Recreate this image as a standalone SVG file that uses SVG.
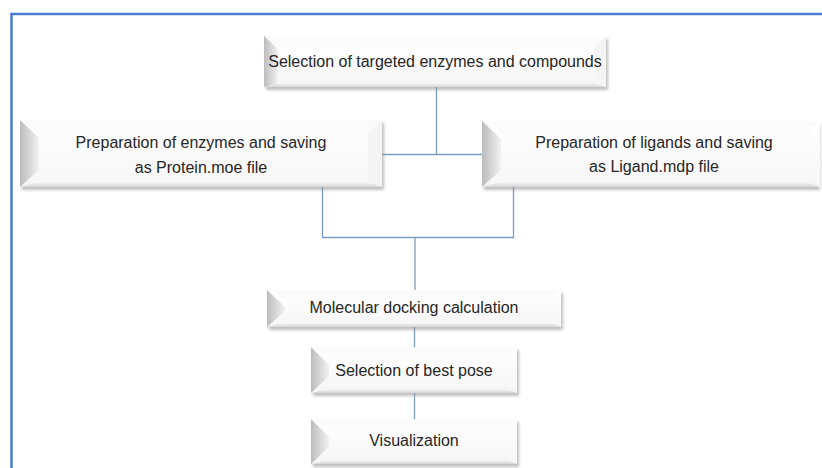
<svg xmlns="http://www.w3.org/2000/svg" width="822" height="468" viewBox="0 0 822 468">
  <defs>
    <linearGradient id="gLeft" x1="0" y1="0" x2="1" y2="0">
      <stop offset="0" stop-color="#bcbcbc"/>
      <stop offset="1" stop-color="#f2f2f2"/>
    </linearGradient>
    <linearGradient id="gBottom" x1="0" y1="0" x2="0" y2="1">
      <stop offset="0" stop-color="#f6f6f6"/>
      <stop offset="1" stop-color="#d6d6d6"/>
    </linearGradient>
    <linearGradient id="gFace" x1="0" y1="0" x2="0" y2="1">
      <stop offset="0" stop-color="#ffffff"/>
      <stop offset="1" stop-color="#f6f6f6"/>
    </linearGradient>
    <filter id="shadow" x="-5%" y="-20%" width="110%" height="150%">
      <feGaussianBlur stdDeviation="1.5"/>
    </filter>
    <style>
      .shadow { fill: #8c8c8c; opacity: 0.55; filter: url(#shadow); }
      .face { fill: url(#gFace); }
      .bl { fill: url(#gLeft); }
      .bb { fill: url(#gBottom); }
      .bt { fill: #fbfbfb; }
      .br { fill: #f4f4f4; }
      .lbl { font-family: "Liberation Sans", Arial, sans-serif; font-size: 16px; fill: #262626; text-anchor: middle; }
      .conn { fill: none; stroke: #7f9dbd; stroke-width: 1.3; }
      .frame { fill: none; stroke: #4a7bd0; stroke-width: 2.5; }
    </style>
  </defs>

  <rect x="0" y="0" width="822" height="468" fill="#ffffff"/>
  <path class="frame" d="M11.5 468 V14 H822"/>

  <g id="connectors">
    <path class="conn" d="M436.5 87 V154.5"/>
    <path class="conn" d="M382 154.5 H482"/>
    <path class="conn" d="M322.5 187 V237.5 H513.5 V187"/>
    <path class="conn" d="M415 237.5 V290"/>
    <path class="conn" d="M414.5 327 V347"/>
    <path class="conn" d="M414.5 393 V419"/>
  </g>

  <g id="node-selection-targets">
    <rect class="shadow" x="266" y="39" width="342" height="51"/>
    <rect class="face" x="264" y="36" width="342" height="51"/>
    <polygon class="bt" points="264,36 606,36 594,48 276,48"/>
    <polygon class="br" points="606,36 606,87 594,75 594,48"/>
    <polygon class="bb" points="264,87 276,83 594,83 606,87"/>
    <polygon class="bl" points="264,36 278,49 278,83 264,87"/>
    <rect class="face" x="278" y="48" width="316" height="35" opacity="0.6"/>
    <text class="lbl" x="435" y="67">Selection of targeted enzymes and compounds</text>
  </g>

  <g id="node-prep-enzymes">
    <rect class="shadow" x="22" y="123" width="362" height="67"/>
    <rect class="face" x="20" y="120" width="362" height="67"/>
    <polygon class="bt" points="20,120 382,120 368,134 38,134"/>
    <polygon class="br" points="382,120 382,187 368,182 368,134"/>
    <polygon class="bb" points="20,187 38,182 368,182 382,187"/>
    <polygon class="bl" points="20,120 39,138 39,170 20,187"/>
    <text class="lbl" x="201" y="148">Preparation of enzymes and saving</text>
    <text class="lbl" x="201" y="173">as Protein.moe file</text>
  </g>

  <g id="node-prep-ligands">
    <rect class="shadow" x="484" y="124" width="336" height="66"/>
    <rect class="face" x="482" y="121" width="338" height="66"/>
    <polygon class="bt" points="482,121 820,121 806,135 500,135"/>
    <polygon class="bb" points="482,187 500,182 806,182 820,187"/>
    <polygon class="bl" points="482,121 501,139 501,170 482,187"/>
    <text class="lbl" x="654" y="148">Preparation of ligands and saving</text>
    <text class="lbl" x="654" y="172">as Ligand.mdp file</text>
  </g>

  <g id="node-docking">
    <rect class="shadow" x="269" y="293" width="294" height="37"/>
    <rect class="face" x="267" y="290" width="294" height="37"/>
    <polygon class="bt" points="267,290 561,290 551,298 283,298"/>
    <polygon class="bb" points="267,327 283,323 551,323 561,327"/>
    <polygon class="bl" points="267,290 285,307 285,311 267,327"/>
    <text class="lbl" x="414" y="313">Molecular docking calculation</text>
  </g>

  <g id="node-best-pose">
    <rect class="shadow" x="313" y="350" width="206" height="46"/>
    <rect class="face" x="311" y="347" width="206" height="46"/>
    <polygon class="bt" points="311,347 517,347 507,357 328,357"/>
    <polygon class="bb" points="311,393 328,389 507,389 517,393"/>
    <polygon class="bl" points="311,347 329,365 329,376 311,393"/>
    <text class="lbl" x="414" y="376">Selection of best pose</text>
  </g>

  <g id="node-visualization">
    <rect class="shadow" x="313" y="422" width="206" height="45"/>
    <rect class="face" x="311" y="419" width="206" height="45"/>
    <polygon class="bt" points="311,419 517,419 507,429 328,429"/>
    <polygon class="bb" points="311,464 328,460 507,460 517,464"/>
    <polygon class="bl" points="311,419 329,437 329,447 311,464"/>
    <text class="lbl" x="414" y="446">Visualization</text>
  </g>
</svg>
